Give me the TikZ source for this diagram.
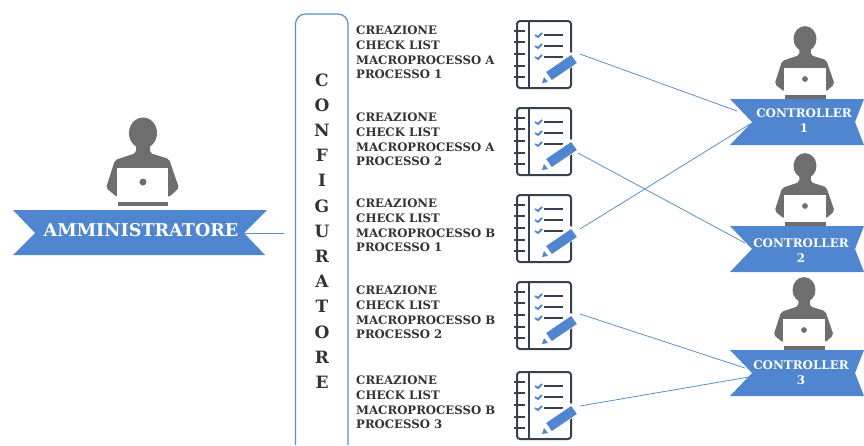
\documentclass[tikz,border=0pt]{standalone}
\usepackage{fontspec}
\setmainfont{DejaVu Serif}
\usetikzlibrary{positioning}

\definecolor{ribbonblue}{HTML}{4F86CF}
\definecolor{linkblue}{HTML}{5B8FCB}
\definecolor{persongray}{HTML}{6E6E6E}
\definecolor{notedark}{HTML}{36414F}
\definecolor{textdark}{HTML}{333333}

\tikzset{
    ribbon/.style={fill=ribbonblue, draw=none},
    ribbontext/.style={text=white, font=\bfseries\fontsize{#1}{15}\selectfont, align=center, inner sep=0pt},
    steptext/.style={text=textdark, font=\bfseries\fontsize{11.7}{14.6}\selectfont, align=left, anchor=west, inner sep=0pt},
    lettertext/.style={text=textdark, font=\bfseries\fontsize{17}{25.2}\selectfont, align=center, inner sep=0pt},
    link/.style={linkblue, line width=0.8pt},
    person/.pic={
        \fill[persongray] (0,-49) ellipse (14 and 15.5);
        \fill[persongray, rounded corners=2pt] (-7,-38) -- (-7,-29) -- (-28,-22) -- (-37,6) -- (-26,15) -- (26,15) -- (36,6) -- (26,-23) -- (7,-29) -- (7,-38) -- cycle;
        \fill[white] (-26,-14) rectangle (25,16);
        \fill[white] (-30,16) rectangle (30,19);
        \fill[persongray] (0,0) circle (3.5);
        \fill[persongray] (-25,20) rectangle (25,24);
    },
    checklist/.pic={
        \draw[notedark, line width=2pt, rounded corners=3pt] (0,0) rectangle (54,67);
        \draw[notedark, line width=1.5pt] (12,0) -- (12,67);
        % rings
        \foreach \ringy in {10,21,33,45,56}
            \draw[notedark, line width=2pt] (-3,\ringy) -- (8,\ringy);
        % ticks and rows
        \foreach \rowy in {14,25,36} {
            \draw[ribbonblue, line width=1.8pt] (18,\rowy) -- (21,\rowy+2) -- (25,\rowy-2);
            \draw[notedark, line width=1.8pt] (27,\rowy) -- (46,\rowy);
        }
        % pen
        \fill[white] (62,40) -- (54,31) -- (26,50) -- (22,64) -- (36,62) -- cycle;
        \fill[ribbonblue] (59.8,42) -- (54.2,34) -- (29.2,51) -- (34.8,59) -- cycle;
        \fill[ribbonblue] (25,62) -- (27,56) -- (31,61) -- cycle;
    },
    controllerribbon/.pic={
        \fill[ribbon] (0,0) -- (22,23) -- (0,46) -- (134,46) -- (125,23) -- (134,0) -- cycle;
    },
}

\begin{document}
\begin{tikzpicture}[x=1pt, y=-1pt]
    \useasboundingbox (0,0) rectangle (864,445);

    % Amministratore
    \pic at (143,182) {person};
    \fill[ribbon] (13,210) -- (35,233) -- (13,255) -- (265,255) -- (244,233) -- (267,210) -- cycle;
    \node[ribbontext=17.6] (adm) at (141,230.5) {AMMINISTRATORE};
    \coordinate (admout) at (244,233);
    \coordinate (admend) at (284,233);
    \draw[link] (admout) -- (admend);

    % Configuratore
    \draw[linkblue, line width=1.2pt, rounded corners=10pt] (295.5,445) -- (295.5,14) -- (348,14) -- (348,445);
    \node[lettertext] (conf) at (322,231) {C\\O\\N\\F\\I\\G\\U\\R\\A\\T\\O\\R\\E};

    % Checklist
    \node[steptext] (step1) at (356,52.5) {CREAZIONE\\CHECK LIST\\MACROPROCESSO A\\PROCESSO 1};
    \pic at (517,21) {checklist};
    \coordinate (out1) at (580,54);

    \node[steptext] (step2) at (356,139.5) {CREAZIONE\\CHECK LIST\\MACROPROCESSO A\\PROCESSO 2};
    \pic at (517,108) {checklist};
    \coordinate (out2) at (578,153);

    \node[steptext] (step3) at (356,225.5) {CREAZIONE\\CHECK LIST\\MACROPROCESSO B\\PROCESSO 1};
    \pic at (517,195) {checklist};
    \coordinate (out3) at (580,229);

    \node[steptext] (step4) at (356,312.5) {CREAZIONE\\CHECK LIST\\MACROPROCESSO B\\PROCESSO 2};
    \pic at (517,282) {checklist};
    \coordinate (out4) at (580,314);

    \node[steptext] (step5) at (356,402.5) {CREAZIONE\\CHECK LIST\\MACROPROCESSO B\\PROCESSO 3};
    \pic at (517,372) {checklist};
    \coordinate (out5) at (580,406);

    % Controller
    \pic[scale=0.82] at (805,79) {person};
    \pic at (730,99) {controllerribbon};
    \node[ribbontext=11.9] (ctrl1) at (804,120.5) {CONTROLLER\\1};
    \coordinate (ctrl1a) at (737,111);
    \coordinate (ctrl1b) at (750,124);

    \pic[scale=0.82] at (805,206) {person};
    \pic at (730,226) {controllerribbon};
    \node[ribbontext=11.9] (ctrl2) at (801,250.5) {CONTROLLER\\2};
    \coordinate (ctrl2a) at (745,243);

    \pic[scale=0.82] at (804,330) {person};
    \pic at (730,350) {controllerribbon};
    \node[ribbontext=11.9] (ctrl3) at (801,373) {CONTROLLER\\3};
    \coordinate (ctrl3a) at (745,368);
    \coordinate (ctrl3b) at (749,377);

    % Links
    \draw[link] (out1) -- (ctrl1a);
    \draw[link] (out2) -- (ctrl2a);
    \draw[link] (out3) -- (ctrl1b);
    \draw[link] (out4) -- (ctrl3a);
    \draw[link] (out5) -- (ctrl3b);
\end{tikzpicture}
\end{document}
